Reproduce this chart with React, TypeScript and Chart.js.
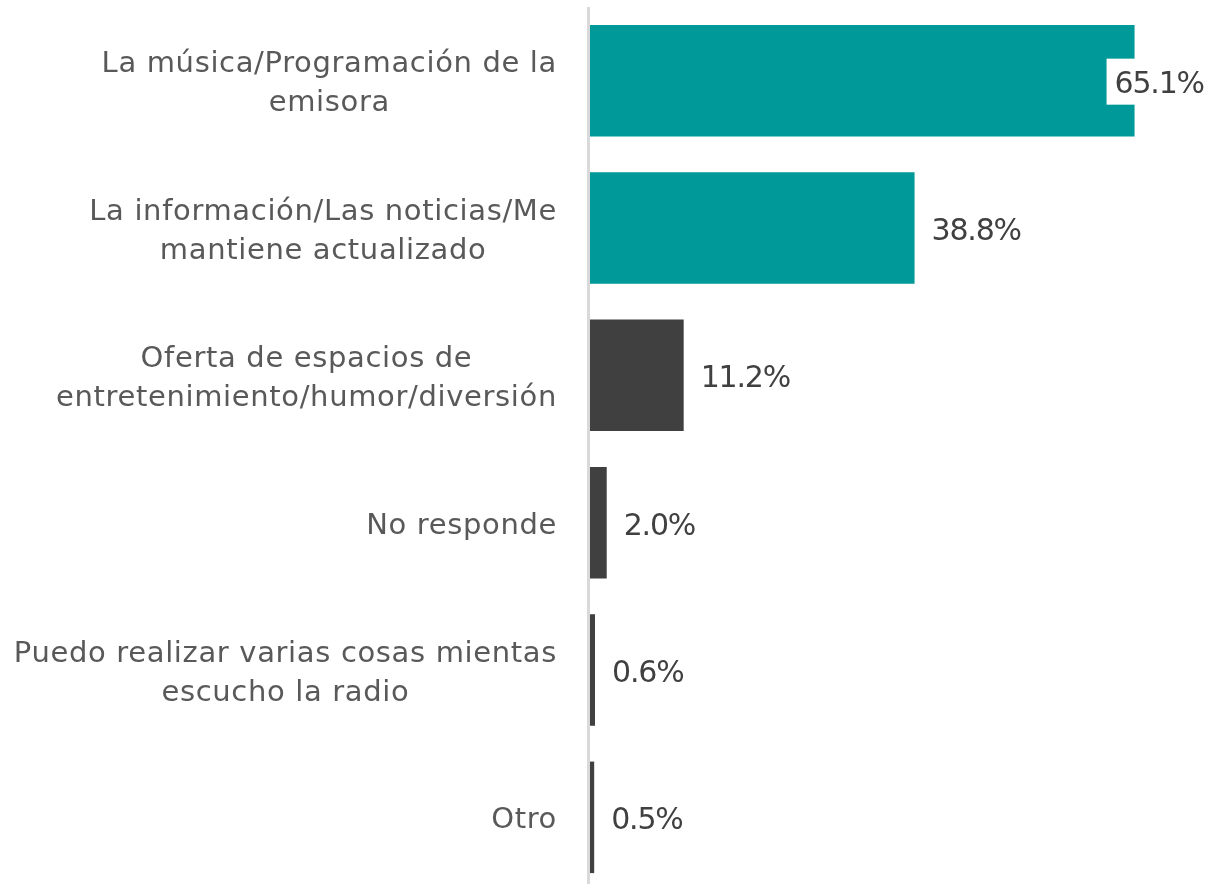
import React, { useEffect, useRef } from "react";
import { Chart, registerables } from "chart.js";

Chart.register(...registerables);

const categories: string[][] = [
  ["La música/Programación de la", "emisora"],
  ["La información/Las noticias/Me", "mantiene actualizado"],
  ["Oferta de espacios de", "entretenimiento/humor/diversión"],
  ["No responde"],
  ["Puedo realizar varias cosas mientas", "escucho la radio"],
  ["Otro"],
];
const values: number[] = [65.1, 38.8, 11.2, 2.0, 0.6, 0.5];
const valueLabels: string[] = ["65.1%", "38.8%", "11.2%", "2.0%", "0.6%", "0.5%"];
const barColors: string[] = ["#009999", "#009999", "#404040", "#404040", "#404040", "#404040"];
const xMax = 74;

const labelPlugin = {
  id: "customLabels",
  beforeDatasetsDraw(chart: any) {
    const { ctx, chartArea } = chart;
    ctx.save();
    ctx.fillStyle = "#d9d9d9";
    ctx.fillRect(chartArea.left - 3, chartArea.top, 3, chartArea.bottom - chartArea.top);
    ctx.restore();
  },
  afterDatasetsDraw(chart: any) {
    const { ctx, chartArea } = chart;
    const yScale = chart.scales.y;
    const xScale = chart.scales.x;
    ctx.save();
    // category labels
    const catSize = 29;
    ctx.font = `${catSize}px 'DejaVu Sans'`;
    ctx.fillStyle = "#595959";
    ctx.textBaseline = "alphabetic";
    (ctx as any).letterSpacing = "0.65px";
    ctx.textAlign = "center";
    const right = chartArea.left - 33;
    const lh = 39;
    const catShift = 0.729 * catSize / 2 + 0.5;
    categories.forEach((lines, i) => {
      const yc = yScale.getPixelForValue(i);
      const w = Math.max(...lines.map((l) => ctx.measureText(l).width));
      const cx = right - w / 2;
      lines.forEach((l, j) => {
        const y = yc + (j - (lines.length - 1) / 2) * lh + catShift;
        ctx.fillText(l, cx, y);
      });
    });
    // value labels
    const valSize = 30;
    ctx.font = `${valSize}px 'DejaVu Sans'`;
    (ctx as any).letterSpacing = "-1.2px";
    ctx.textAlign = "left";
    const valShift = 0.729 * valSize / 2 + 1;
    values.forEach((v, i) => {
      const yc = yScale.getPixelForValue(i);
      const xe = xScale.getPixelForValue(v);
      if (i === 0) {
        ctx.fillStyle = "#ffffff";
        ctx.fillRect(xe - 28, yc - 22, chart.width - (xe - 28), 46);
        ctx.fillStyle = "#404040";
        ctx.fillText(valueLabels[i], xe - 20, yc + valShift);
      } else {
        ctx.fillStyle = "#404040";
        ctx.fillText(valueLabels[i], xe + 17, yc + valShift);
      }
    });
    ctx.restore();
  },
};

export default function App() {
  const canvasRef = useRef<HTMLCanvasElement | null>(null);

  useEffect(() => {
    document.body.style.margin = "0";
    const canvas = canvasRef.current;
    if (!canvas) return;
    const chart = new Chart(canvas, {
      type: "bar",
      data: {
        labels: categories,
        datasets: [
          {
            data: values,
            backgroundColor: barColors,
            borderWidth: 0,
            barPercentage: 0.757,
            categoryPercentage: 1,
          },
        ],
      },
      options: {
        indexAxis: "y",
        animation: false,
        responsive: true,
        maintainAspectRatio: false,
        layout: { padding: { left: 590, top: 7, right: 0, bottom: 0 } },
        plugins: {
          legend: { display: false },
          tooltip: { enabled: false },
        },
        scales: {
          x: { display: false, min: 0, max: xMax },
          y: { display: false },
        },
      },
      plugins: [labelPlugin],
    });
    return () => chart.destroy();
  }, []);

  return (
    <div style={{ width: 1209, height: 884, overflow: "hidden", background: "#ffffff" }}>
      <div style={{ position: "relative", width: 1209, height: 891 }}>
        <canvas ref={canvasRef} />
      </div>
    </div>
  );
}
